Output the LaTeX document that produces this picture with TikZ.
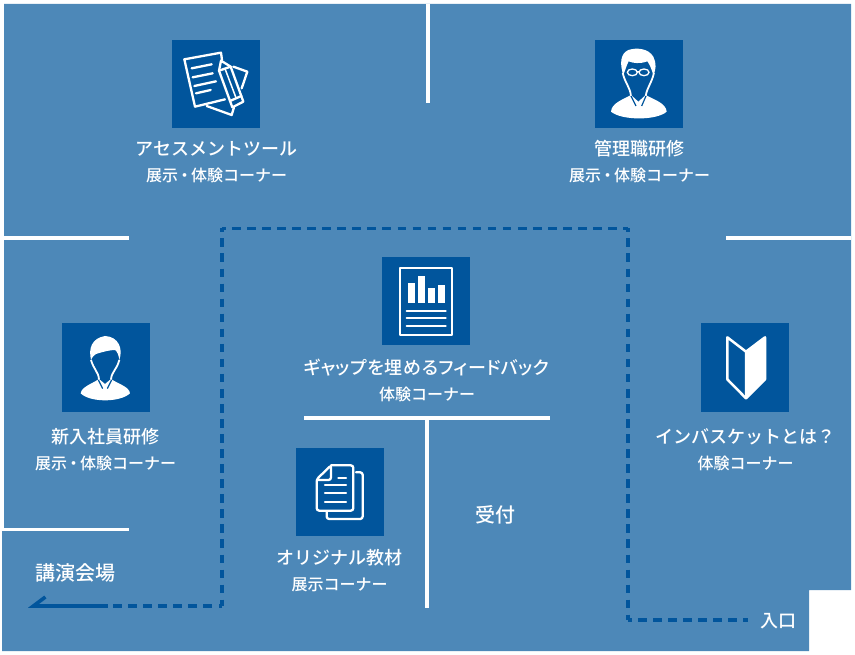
\documentclass[tikz,border=0pt]{standalone}
\usepackage{fontspec}
\setmainfont{Noto Sans CJK JP Medium}
\usetikzlibrary{arrows.meta}
\definecolor{floorblue}{RGB}{77,136,184}
\definecolor{darkblue}{RGB}{1,85,156}
\newcommand{\sz}[1]{\fontsize{#1pt}{#1pt}\selectfont}
\newcommand{\nakaguro}{\hspace{-1.5pt}・\hspace{-1.5pt}}
\tikzset{
  wall/.style={draw=white,line width=3.5pt},
  route/.style={draw=darkblue,line width=3.8pt,dash pattern=on 8.6pt off 6.45pt,dash phase=5.1pt},
  iconbox/.style={fill=darkblue,minimum size=88pt,inner sep=0pt},
  boothname/.style={text=white,inner sep=0pt,font=\sz{18}},
  boothkind/.style={text=white,inner sep=0pt,font=\sz{16}},
  plainlabel/.style={text=white,inner sep=0pt},
  iconline/.style={draw=white,line width=2.3pt,line join=round,line cap=round},
}
\begin{document}
\begin{tikzpicture}[x=1pt,y=-1pt]
  \useasboundingbox (0,0) rectangle (855,655);
  % floor
  \fill[floorblue] (4,4) -- (851,4) -- (851,590) -- (809,590) -- (809,651) -- (2,651) -- (2,531) -- (4,531) -- cycle;
  % walls
  \draw[wall] (428,4) -- (428,103);
  \draw[wall] (4,238) -- (129,238);
  \draw[wall] (726,238) -- (851,238);
  \draw[wall] (2,529.5) -- (129,529.5);
  \draw[wall] (304,418) -- (550,418);
  \draw[wall] (427,418) -- (427,608);

  % route
  \coordinate (exitend) at (28,606);
  \coordinate (exitsolid) at (107.5,606);
  \coordinate (exitdash) at (113,606);
  \coordinate (leftcorner) at (222,606);
  \coordinate (topleft) at (222,228.5);
  \coordinate (topright) at (628,228.5);
  \coordinate (rightcorner) at (628,620);
  \coordinate (entry) at (748,620);
  \draw[route] (leftcorner) -- (exitdash);
  \draw[route] (topleft) -- (leftcorner);
  \draw[route] (topleft) -- (topright);
  \draw[route] (topright) -- (rightcorner);
  \draw[route] (rightcorner) -- (entry);
  \draw[darkblue,line width=4pt,-{Straight Barb[right,length=12pt,width=18pt,line width=3.6pt]}] (exitsolid) -- (exitend);

  % booths
  \node[iconbox] (assessbox) at (216,84) {};
  \node[boothname] (assessname) at (216.5,149) {アセスメントツール};
  \node[boothkind] (assesskind) at (216.5,175.5) {展示\nakaguro 体験コーナー};

  \node[iconbox] (managerbox) at (639,84) {};
  \node[boothname] (managername) at (639.5,149) {管理職研修};
  \node[boothkind] (managerkind) at (639.5,175.5) {展示\nakaguro 体験コーナー};

  \node[iconbox] (feedbackbox) at (426,301) {};
  \node[boothname] (feedbackname) at (426.5,367.5) {\addfontfeature{RawFeature=+palt,LetterSpace=3}ギャップを埋めるフィードバック};
  \node[boothkind] (feedbackkind) at (427,394.5) {体験コーナー};

  \node[iconbox] (recruitbox) at (105.5,367.5) {};
  \node[boothname] (recruitname) at (105.5,437) {新入社員研修};
  \node[boothkind] (recruitkind) at (105.5,463.5) {展示\nakaguro 体験コーナー};

  \node[iconbox] (basketbox) at (745,367.5) {};
  \node[boothname] (basketname) at (745,437) {インバスケットとは？};
  \node[boothkind] (basketkind) at (745.5,463.5) {体験コーナー};

  \node[iconbox] (materialbox) at (339.5,492) {};
  \node[boothname] (materialname) at (339.5,557.5) {オリジナル教材};
  \node[boothkind] (materialkind) at (339.5,584.5) {展示コーナー};

  \node[plainlabel,font=\sz{20}] (reception) at (495,515) {受付};
  \node[plainlabel,font=\sz{20}] (hall) at (75,573) {講演会場};
  \node[plainlabel,font=\sz{18}] (entrance) at (778,621.5) {入口};

  % assessment icon
  \begin{scope}[shift={(120,20)},scale=1/3]
    \draw[iconline] (340,140) -- (382,155) -- (365,205);
    \draw[iconline] (260,258) -- (335,285) -- (342,262);
    \draw[iconline] (306,120) -- (303,98) -- (193,118) -- (225,260) -- (315,238);
    \draw[iconline] (215,145) -- (275,133) (218,172) -- (278,160) (223,198) -- (288,184) (228,220) -- (272,210);
    \draw[iconline,fill=darkblue] (303,122) -- (297,152) -- (337,262) -- (370,245) -- (332,140) -- cycle;
    \draw[iconline] (297,152) -- (332,140) (330,243) -- (364,228);
    \draw[line width=1.5pt,white] (315,146) -- (349,236);
  \end{scope}

  % manager icon
  \begin{scope}[shift={(560,20)},scale=1/3]
    \fill[white] (190,165) .. controls (178,130) and (182,100) .. (205,90) .. controls (230,82) and (265,85) .. (280,110) .. controls (290,130) and (288,150) .. (280,165) .. controls (274,145) and (268,132) .. (262,124) .. controls (240,132) and (220,130) .. (206,124) .. controls (200,135) and (196,150) .. (190,165) -- cycle;
    \draw[white,line width=1.8pt] (188,158) .. controls (195,190) and (210,200) .. (213,228);
    \draw[white,line width=1.8pt] (282,158) .. controls (275,190) and (262,200) .. (257,228);
    \fill[white] (153,275) .. controls (155,250) and (185,240) .. (213,225) -- (235,245) -- (257,225) .. controls (285,240) and (318,250) .. (320,275) .. controls (290,302) and (185,302) .. (153,275) -- cycle;
    \draw[darkblue,line width=1.2pt] (213,228) -- (228,258);
    \draw[darkblue,line width=1.2pt] (258,228) -- (245,258);
    \draw[white,line width=1.3pt] (217,157) ellipse (15 and 10);
    \draw[white,line width=1.3pt] (252,157) ellipse (15 and 10);
    \draw[white,line width=1.3pt] (232,155) -- (237,155);
  \end{scope}

  % feedback icon
  \begin{scope}[shift={(290,240)},scale=1/3]
    \draw[iconline] (330,83) rectangle (487,284);
    \fill[white] (354,130) rectangle (374,190);
    \fill[white] (385,108) rectangle (404,190);
    \fill[white] (414,144) rectangle (434,190);
    \fill[white] (444,134) rectangle (464,190);
    \draw[iconline] (350,213) -- (467,213) (350,235) -- (467,235) (350,257) -- (467,257);
  \end{scope}

  % recruit icon
  \begin{scope}[shift={(20,310)},scale=1/3]
    \fill[white] (213,150) .. controls (205,115) and (215,85) .. (255,78) .. controls (295,80) and (310,115) .. (298,150) .. controls (296,135) and (292,125) .. (285,120) .. controls (270,120) and (250,125) .. (228,132) .. controls (222,135) and (218,140) .. (213,150) -- cycle;
    \draw[white,line width=1.8pt] (213,150) .. controls (222,180) and (235,185) .. (237,208);
    \draw[white,line width=1.8pt] (298,150) .. controls (290,180) and (275,185) .. (273,208);
    \fill[white] (182,250) .. controls (185,230) and (215,222) .. (237,207) -- (255,222) -- (273,207) .. controls (295,222) and (328,230) .. (330,250) .. controls (300,278) and (210,278) .. (182,250) -- cycle;
    \draw[darkblue,line width=1.2pt] (235,210) -- (248,236);
    \draw[darkblue,line width=1.2pt] (275,210) -- (262,236);
  \end{scope}

  % beginner mark icon
  \begin{scope}[shift={(650,310)},scale=1/3]
    \fill[white,draw=white,line width=2.5pt,line join=round] (288,125) -- (345,82) -- (345,208) -- (288,265) -- cycle;
    \draw[white,line width=2.5pt,line join=round] (288,125) -- (232,82) -- (232,208) -- (288,265);
  \end{scope}

  % material icon
  \begin{scope}[shift={(270,440)},scale=1/3]
    \draw[iconline,rounded corners=2.5pt] (183,76) -- (250,76) -- (250,212) -- (140,212) -- (140,118) -- (183,76) -- (183,120) -- (140,120);
    \draw[iconline,rounded corners=2.5pt] (258,97) -- (278,97) -- (278,237) -- (170,237) -- (170,215);
    \draw[iconline] (205,113) -- (228,113) (165,135) -- (228,135) (165,160) -- (228,160) (165,185) -- (228,185);
  \end{scope}
\end{tikzpicture}
\end{document}
